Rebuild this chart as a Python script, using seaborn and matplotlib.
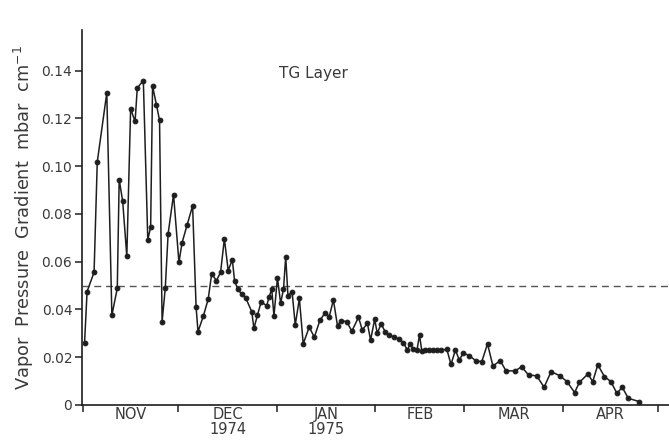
import matplotlib
matplotlib.use("Agg")
import matplotlib.pyplot as plt
import seaborn as sns
import pandas as pd

# Days since 1 Nov 1974 for each observation
days = [0.5, 1.3, 3.5, 4.5, 7.5, 9.1, 10.8, 11.4, 12.5, 13.8,
        15.0, 16.4, 17.1, 19.0, 20.4, 21.3, 21.9, 23.1, 24.1, 24.9,
        25.9, 26.8, 28.5, 30.2, 31.2, 32.8, 34.5, 35.6, 36.2, 37.9,
        39.4, 40.5, 42.0, 43.3, 44.5, 45.7, 47.0, 47.7, 48.7, 49.9,
        51.3, 53.1, 53.8, 54.9, 56.1, 57.8, 58.6, 59.4, 60.1, 61.2,
        62.2, 63.1, 63.8, 64.5, 65.8, 66.8, 68.1, 69.3, 71.2, 72.8,
        74.6, 76.3, 77.5, 78.8, 80.1, 81.1, 83.0, 84.6, 86.7, 87.9,
        89.5, 90.5, 91.8, 92.6, 93.8, 95.1, 96.4, 97.9, 99.6, 100.8,
        102.1, 102.9, 104.0, 105.1, 105.9, 106.6, 107.6, 108.9, 110.2, 111.4,
        112.7, 114.5, 115.8, 117.2, 118.4, 119.7, 121.6, 123.7, 125.5, 127.3,
        129.0, 131.3, 133.1, 136.0, 138.0, 140.2, 142.8, 145.1, 147.3, 150.1,
        152.3, 154.7, 156.2, 158.9, 160.4, 162.0, 164.1, 166.1, 168.0, 169.7,
        171.6, 175.1]

# Vapor pressure gradient, mbar/cm
gradient = [0.0259, 0.0475, 0.0556, 0.1017, 0.1307, 0.0375, 0.0489, 0.0944, 0.0853, 0.0622,
            0.1240, 0.1187, 0.1328, 0.1358, 0.0692, 0.0745, 0.1335, 0.1258, 0.1192, 0.0349,
            0.0489, 0.0717, 0.0881, 0.0598, 0.0680, 0.0755, 0.0834, 0.0410, 0.0307, 0.0373,
            0.0443, 0.0549, 0.0521, 0.0555, 0.0696, 0.0563, 0.0608, 0.0521, 0.0485, 0.0465,
            0.0446, 0.0391, 0.0321, 0.0376, 0.0433, 0.0415, 0.0454, 0.0485, 0.0373, 0.0533,
            0.0426, 0.0485, 0.0621, 0.0458, 0.0475, 0.0335, 0.0446, 0.0256, 0.0326, 0.0284,
            0.0356, 0.0387, 0.0370, 0.0440, 0.0331, 0.0353, 0.0349, 0.0309, 0.0367, 0.0314,
            0.0342, 0.0272, 0.0359, 0.0300, 0.0339, 0.0307, 0.0293, 0.0284, 0.0275, 0.0261,
            0.0230, 0.0256, 0.0233, 0.0230, 0.0293, 0.0228, 0.0230, 0.0230, 0.0230, 0.0230,
            0.0230, 0.0233, 0.0170, 0.0230, 0.0189, 0.0217, 0.0207, 0.0184, 0.0182, 0.0256,
            0.0163, 0.0186, 0.0143, 0.0143, 0.0160, 0.0126, 0.0122, 0.0074, 0.0140, 0.0122,
            0.0098, 0.0052, 0.0095, 0.0130, 0.0098, 0.0168, 0.0119, 0.0098, 0.0049, 0.0074,
            0.0028, 0.0014]

month_starts = [0, 30, 61, 92, 120, 151, 181]
month_labels = ["NOV", "DEC\n1974", "JAN\n1975", "FEB", "MAR", "APR"]
y_ticks = [0, 0.02, 0.04, 0.06, 0.08, 0.10, 0.12, 0.14]
y_tick_labels = ["0", "0.02", "0.04", "0.06", "0.08", "0.10", "0.12", "0.14"]
threshold = 0.05

sns.set_style("ticks")
plt.rcParams["font.family"] = ["DejaVu Sans"]
ink = "#1e1e1e"
text_col = "#3a3a3a"

df = pd.DataFrame({"day": days, "gradient": gradient})

fig = plt.figure(figsize=(6.69, 4.43), dpi=100)
ax = fig.add_axes([82 / 669, 1 - 405 / 443, 1 - 82 / 669, (405 - 30) / 443])

ax.axhline(threshold, color="#555555", lw=1.0, ls=(0, (5, 3.5)), zorder=1)

sns.lineplot(data=df, x="day", y="gradient", ax=ax, color=ink, lw=1.1,
             marker="o", markersize=3.4, markeredgecolor=ink, markerfacecolor=ink,
             zorder=3)

ax.set_xlim(-0.3, 184.4)
ax.set_ylim(0, 0.157)

ax.set_xticks(month_starts)
ax.set_xticklabels([""] * len(month_starts))
mids = [(a + b) / 2 for a, b in zip(month_starts[:-1], month_starts[1:])]
ax.set_xticks(mids, minor=True)
ax.set_xticklabels(month_labels, minor=True, va="top", linespacing=1.0)
ax.tick_params(axis="x", which="minor", length=0, pad=1.5, labelsize=10.5, labelcolor=text_col)
ax.tick_params(axis="x", which="major", length=5, width=1.1, color=ink)

ax.set_yticks(y_ticks)
ax.set_yticklabels(y_tick_labels)
ax.tick_params(axis="y", length=5, width=1.1, color=ink, labelsize=10, labelcolor=text_col, pad=2)

for side in ("left", "bottom"):
    ax.spines[side].set_color(ink)
    ax.spines[side].set_linewidth(1.2)
sns.despine(ax=ax)

ax.set_xlabel("")
ax.set_ylabel("Vapor  Pressure  Gradient  mbar  cm$^{-1}$", fontsize=12.8,
              color=text_col, labelpad=4)
ax.text(0.335, 0.885, "TG Layer", transform=ax.transAxes, fontsize=11,
        color=text_col, ha="left", va="center")

fig.savefig("out.png", dpi=100, facecolor="white")
